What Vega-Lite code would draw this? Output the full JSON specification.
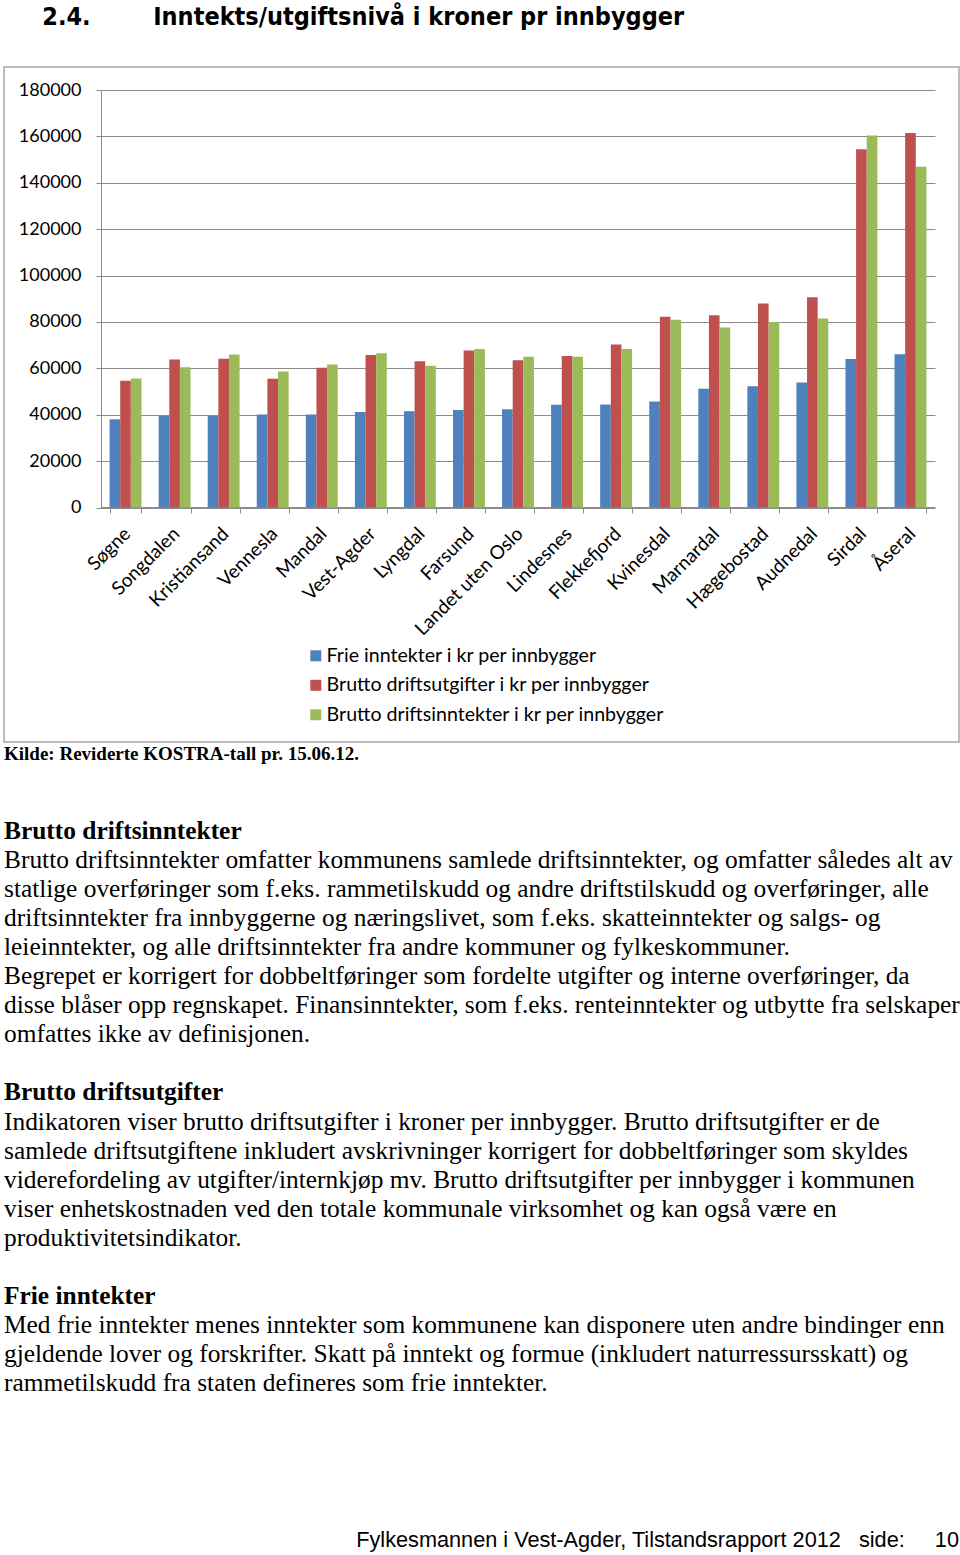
{
  "$schema": "https://vega.github.io/schema/vega-lite/v6.json",
  "padding": {"top": 5, "left": 3, "right": 0, "bottom": 0},
  "background": "white",
  "title": {
    "text": "2.4.\u00a0\u00a0\u00a0\u00a0\u00a0\u00a0\u00a0\u00a0Inntekts/utgiftsnivå i kroner pr innbygger",
    "anchor": "start", "frame": "bounds", "dx": 39,
    "font": "Liberation Sans Narrow, DejaVu Sans Condensed, Liberation Sans",
    "fontSize": 25, "fontWeight": "bold", "color": "black", "offset": 36
  },
  "config": {"view": {"stroke": null}},
  "datasets": {
    "bars": [
      {"kommune": "Søgne", "serie": "Frie inntekter i kr per innbygger", "verdi": 38100},
      {"kommune": "Søgne", "serie": "Brutto driftsutgifter i kr per innbygger", "verdi": 54600},
      {"kommune": "Søgne", "serie": "Brutto driftsinntekter i kr per innbygger", "verdi": 55600},
      {"kommune": "Songdalen", "serie": "Frie inntekter i kr per innbygger", "verdi": 39500},
      {"kommune": "Songdalen", "serie": "Brutto driftsutgifter i kr per innbygger", "verdi": 63800},
      {"kommune": "Songdalen", "serie": "Brutto driftsinntekter i kr per innbygger", "verdi": 60500},
      {"kommune": "Kristiansand", "serie": "Frie inntekter i kr per innbygger", "verdi": 39500},
      {"kommune": "Kristiansand", "serie": "Brutto driftsutgifter i kr per innbygger", "verdi": 64100},
      {"kommune": "Kristiansand", "serie": "Brutto driftsinntekter i kr per innbygger", "verdi": 66000},
      {"kommune": "Vennesla", "serie": "Frie inntekter i kr per innbygger", "verdi": 40100},
      {"kommune": "Vennesla", "serie": "Brutto driftsutgifter i kr per innbygger", "verdi": 55500},
      {"kommune": "Vennesla", "serie": "Brutto driftsinntekter i kr per innbygger", "verdi": 58600},
      {"kommune": "Mandal", "serie": "Frie inntekter i kr per innbygger", "verdi": 40100},
      {"kommune": "Mandal", "serie": "Brutto driftsutgifter i kr per innbygger", "verdi": 60300},
      {"kommune": "Mandal", "serie": "Brutto driftsinntekter i kr per innbygger", "verdi": 61600},
      {"kommune": "Vest-Agder", "serie": "Frie inntekter i kr per innbygger", "verdi": 41200},
      {"kommune": "Vest-Agder", "serie": "Brutto driftsutgifter i kr per innbygger", "verdi": 65700},
      {"kommune": "Vest-Agder", "serie": "Brutto driftsinntekter i kr per innbygger", "verdi": 66500},
      {"kommune": "Lyngdal", "serie": "Frie inntekter i kr per innbygger", "verdi": 41500},
      {"kommune": "Lyngdal", "serie": "Brutto driftsutgifter i kr per innbygger", "verdi": 63100},
      {"kommune": "Lyngdal", "serie": "Brutto driftsinntekter i kr per innbygger", "verdi": 61100},
      {"kommune": "Farsund", "serie": "Frie inntekter i kr per innbygger", "verdi": 42000},
      {"kommune": "Farsund", "serie": "Brutto driftsutgifter i kr per innbygger", "verdi": 67700},
      {"kommune": "Farsund", "serie": "Brutto driftsinntekter i kr per innbygger", "verdi": 68300},
      {"kommune": "Landet uten Oslo", "serie": "Frie inntekter i kr per innbygger", "verdi": 42400},
      {"kommune": "Landet uten Oslo", "serie": "Brutto driftsutgifter i kr per innbygger", "verdi": 63500},
      {"kommune": "Landet uten Oslo", "serie": "Brutto driftsinntekter i kr per innbygger", "verdi": 65000},
      {"kommune": "Lindesnes", "serie": "Frie inntekter i kr per innbygger", "verdi": 44300},
      {"kommune": "Lindesnes", "serie": "Brutto driftsutgifter i kr per innbygger", "verdi": 65300},
      {"kommune": "Lindesnes", "serie": "Brutto driftsinntekter i kr per innbygger", "verdi": 65000},
      {"kommune": "Flekkefjord", "serie": "Frie inntekter i kr per innbygger", "verdi": 44400},
      {"kommune": "Flekkefjord", "serie": "Brutto driftsutgifter i kr per innbygger", "verdi": 70300},
      {"kommune": "Flekkefjord", "serie": "Brutto driftsinntekter i kr per innbygger", "verdi": 68300},
      {"kommune": "Kvinesdal", "serie": "Frie inntekter i kr per innbygger", "verdi": 45700},
      {"kommune": "Kvinesdal", "serie": "Brutto driftsutgifter i kr per innbygger", "verdi": 82200},
      {"kommune": "Kvinesdal", "serie": "Brutto driftsinntekter i kr per innbygger", "verdi": 81000},
      {"kommune": "Marnardal", "serie": "Frie inntekter i kr per innbygger", "verdi": 51200},
      {"kommune": "Marnardal", "serie": "Brutto driftsutgifter i kr per innbygger", "verdi": 82900},
      {"kommune": "Marnardal", "serie": "Brutto driftsinntekter i kr per innbygger", "verdi": 77600},
      {"kommune": "Hægebostad", "serie": "Frie inntekter i kr per innbygger", "verdi": 52300},
      {"kommune": "Hægebostad", "serie": "Brutto driftsutgifter i kr per innbygger", "verdi": 87900},
      {"kommune": "Hægebostad", "serie": "Brutto driftsinntekter i kr per innbygger", "verdi": 80000},
      {"kommune": "Audnedal", "serie": "Frie inntekter i kr per innbygger", "verdi": 53900},
      {"kommune": "Audnedal", "serie": "Brutto driftsutgifter i kr per innbygger", "verdi": 90700},
      {"kommune": "Audnedal", "serie": "Brutto driftsinntekter i kr per innbygger", "verdi": 81500},
      {"kommune": "Sirdal", "serie": "Frie inntekter i kr per innbygger", "verdi": 64000},
      {"kommune": "Sirdal", "serie": "Brutto driftsutgifter i kr per innbygger", "verdi": 154500},
      {"kommune": "Sirdal", "serie": "Brutto driftsinntekter i kr per innbygger", "verdi": 160400},
      {"kommune": "Åseral", "serie": "Frie inntekter i kr per innbygger", "verdi": 66100},
      {"kommune": "Åseral", "serie": "Brutto driftsutgifter i kr per innbygger", "verdi": 161500},
      {"kommune": "Åseral", "serie": "Brutto driftsinntekter i kr per innbygger", "verdi": 146900}
    ],
    "lines": [
      {"row": 0, "type": "heading", "text": "Brutto driftsinntekter"},
      {"row": 1, "type": "body", "text": "Brutto driftsinntekter omfatter kommunens samlede driftsinntekter, og omfatter således alt av"},
      {"row": 2, "type": "body", "text": "statlige overføringer som f.eks. rammetilskudd og andre driftstilskudd og overføringer, alle"},
      {"row": 3, "type": "body", "text": "driftsinntekter fra innbyggerne og næringslivet, som f.eks. skatteinntekter og salgs- og"},
      {"row": 4, "type": "body", "text": "leieinntekter, og alle driftsinntekter fra andre kommuner og fylkeskommuner."},
      {"row": 5, "type": "body", "text": "Begrepet er korrigert for dobbeltføringer som fordelte utgifter og interne overføringer, da"},
      {"row": 6, "type": "body", "text": "disse blåser opp regnskapet. Finansinntekter, som f.eks. renteinntekter og utbytte fra selskaper"},
      {"row": 7, "type": "body", "text": "omfattes ikke av definisjonen."},
      {"row": 9, "type": "heading", "text": "Brutto driftsutgifter"},
      {"row": 10, "type": "body", "text": "Indikatoren viser brutto driftsutgifter i kroner per innbygger. Brutto driftsutgifter er de"},
      {"row": 11, "type": "body", "text": "samlede driftsutgiftene inkludert avskrivninger korrigert for dobbeltføringer som skyldes"},
      {"row": 12, "type": "body", "text": "viderefordeling av utgifter/internkjøp mv. Brutto driftsutgifter per innbygger i kommunen"},
      {"row": 13, "type": "body", "text": "viser enhetskostnaden ved den totale kommunale virksomhet og kan også være en"},
      {"row": 14, "type": "body", "text": "produktivitetsindikator."},
      {"row": 16, "type": "heading", "text": "Frie inntekter"},
      {"row": 17, "type": "body", "text": "Med frie inntekter menes inntekter som kommunene kan disponere uten andre bindinger enn"},
      {"row": 18, "type": "body", "text": "gjeldende lover og forskrifter. Skatt på inntekt og formue (inkludert naturressursskatt) og"},
      {"row": 19, "type": "body", "text": "rammetilskudd fra staten defineres som frie inntekter."}
    ]
  },
  "spacing": 54,
  "vconcat": [
    {
      "width": 955,
      "height": 675,
      "view": {"stroke": "#a6a6a6", "strokeWidth": 1.5},
      "data": {"name": "bars"},
      "title": {
        "text": "Kilde: Reviderte KOSTRA-tall pr. 15.06.12.",
        "orient": "bottom", "anchor": "start", "frame": "group",
        "font": "Liberation Serif", "fontSize": 19, "fontWeight": "bold",
        "color": "black", "offset": 3
      },
      "mark": {"type": "bar"},
      "encoding": {
        "x": {
          "field": "kommune", "type": "nominal", "sort": null,
          "scale": {"range": [97, 931], "paddingInner": 0.35, "paddingOuter": 0.175},
          "axis": {
            "title": null, "offset": -235, "labelAngle": -45, "labelFont": "Lato", "labelFontSize": 19,
            "labelColor": "black", "domainColor": "#8c8c8c", "tickColor": "#8c8c8c",
            "tickBand": "extent", "tickSize": 6, "labelPadding": 11, "labelOffset": -5, "grid": false
          }
        },
        "xOffset": {
          "field": "serie", "type": "nominal",
          "sort": ["Frie inntekter i kr per innbygger", "Brutto driftsutgifter i kr per innbygger", "Brutto driftsinntekter i kr per innbygger"]
        },
        "y": {
          "field": "verdi", "type": "quantitative",
          "scale": {"domain": [0, 180000], "nice": false, "range": [440.5, 23]},
          "axis": {
            "title": null, "offset": -97, "values": [0, 20000, 40000, 60000, 80000, 100000, 120000, 140000, 160000, 180000],
            "format": "d", "labelFont": "Lato", "labelFontSize": 18, "labelColor": "black",
            "domainColor": "#8c8c8c", "tickColor": "#8c8c8c", "tickSize": 5, "labelPadding": 15,
            "gridColor": "#8c8c8c", "gridOpacity": 1
          }
        },
        "color": {
          "field": "serie", "type": "nominal",
          "sort": ["Frie inntekter i kr per innbygger", "Brutto driftsutgifter i kr per innbygger", "Brutto driftsinntekter i kr per innbygger"],
          "scale": {
            "domain": ["Frie inntekter i kr per innbygger", "Brutto driftsutgifter i kr per innbygger", "Brutto driftsinntekter i kr per innbygger"],
            "range": ["#4F81BD", "#C0504D", "#9BBB59"]
          },
          "legend": {
            "orient": "none", "legendX": 302, "legendY": 579, "title": null, "direction": "vertical",
            "symbolType": "square", "symbolSize": 121, "symbolStrokeWidth": 0,
            "labelFont": "Lato", "labelFontSize": 19.6, "labelColor": "black", "labelLimit": 0,
            "rowPadding": 8.5, "labelOffset": 1, "padding": 0
          }
        }
      }
    },
    {
      "width": 955,
      "height": 552,
      "data": {"name": "lines"},
      "title": {
        "text": "Fylkesmannen i Vest-Agder, Tilstandsrapport 2012\u00a0\u00a0 side:\u00a0\u00a0\u00a0\u00a0 10",
        "orient": "bottom", "anchor": "end", "frame": "group",
        "font": "Liberation Sans", "fontSize": 21.7, "fontWeight": "normal", "color": "black", "offset": 134
      },
      "encoding": {
        "y": {"field": "row", "type": "quantitative", "scale": {"domain": [0, 19], "reverse": true, "nice": false}, "axis": null},
        "x": {"datum": 0, "type": "quantitative", "scale": {"domain": [0, 1], "nice": false}, "axis": null},
        "text": {"field": "text"}
      },
      "layer": [
        {
          "transform": [{"filter": "datum.type === 'heading'"}],
          "mark": {"type": "text", "align": "left", "baseline": "middle", "font": "Liberation Serif", "fontSize": 25.4, "fontWeight": "bold", "color": "black"}
        },
        {
          "transform": [{"filter": "datum.type === 'body'"}],
          "mark": {"type": "text", "align": "left", "baseline": "middle", "font": "Liberation Serif", "fontSize": 25.4, "fontWeight": "normal", "color": "black"}
        }
      ]
    }
  ]
}
